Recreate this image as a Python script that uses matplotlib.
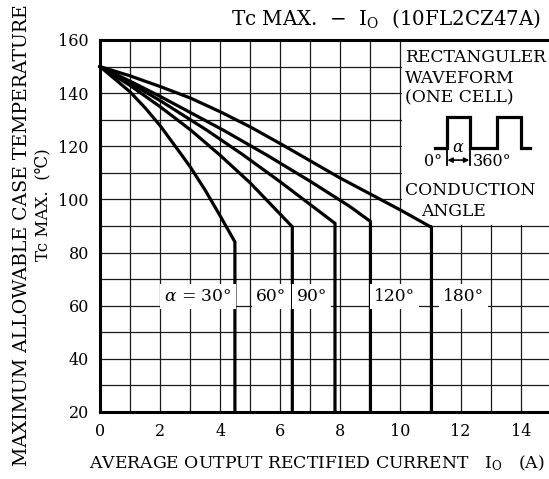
import matplotlib
matplotlib.use("Agg")
import matplotlib.pyplot as plt
from matplotlib.patches import Rectangle
from matplotlib.ticker import MultipleLocator

plt.rcParams["font.family"] = ["DejaVu Serif", "DejaVu Sans"]
plt.rcParams["mathtext.fontset"] = "dejavuserif"

# Tc max vs Io for each conduction angle; last point is where the curve drops
I_30 = [0, 1, 1.5, 2, 2.72, 3, 3.5, 4, 4.49]
T_30 = [150, 140.5, 134.5, 127.8, 116.7, 112.3, 103.5, 93.8, 84]
I_60 = [0, 1, 2, 3.02, 3.99, 5, 6.4]
T_60 = [150, 142.9, 134.9, 126.1, 116.7, 106.2, 89.7]
I_90 = [0, 1, 2, 3.55, 4.77, 6, 7.82]
T_90 = [150, 143.8, 137.2, 126.1, 116.7, 106.6, 91]
I_120 = [0, 1, 2, 4.1, 5.55, 7, 8.32, 9.0]
T_120 = [150, 144.5, 138.8, 126.1, 116.7, 106.8, 97.3, 91.7]
I_180 = [0, 1, 2, 3, 4, 5, 6, 7, 8, 9, 10, 11.03]
T_180 = [150, 146.5, 142.5, 138.2, 133, 127.3, 121, 114.5, 108, 102, 96, 89.5]

CURVES = [(I_30, T_30), (I_60, T_60), (I_90, T_90), (I_120, T_120), (I_180, T_180)]
ANGLE_LABELS = [r"$\alpha$ = 30°", "60°", "90°", "120°", "180°"]
LABEL_X = [3.25, 5.7, 7.05, 9.8, 12.1]
LABEL_T = 63.5

X_TICKS = [0, 2, 4, 6, 8, 10, 12, 14]
Y_TICKS = [20, 40, 60, 80, 100, 120, 140, 160]

fig = plt.figure(figsize=(5.49, 4.79), dpi=100)
ax = fig.add_axes([0.1821, 0.1399, 0.8211, 0.7766])
ax.set_xlim(0, 15)
ax.set_ylim(20, 160)

ax.set_xticks(X_TICKS)
ax.set_yticks(Y_TICKS)
ax.xaxis.set_minor_locator(MultipleLocator(1))
ax.yaxis.set_minor_locator(MultipleLocator(10))
ax.tick_params(which="both", length=0, labelsize=11.5)
ax.tick_params(axis="x", pad=8)
ax.tick_params(axis="y", pad=8)
ax.set_axisbelow(True)
ax.grid(which="both", color="#1a1a1a", linewidth=0.9)

for side in ["left", "bottom", "top"]:
    ax.spines[side].set_linewidth(2.2)
ax.spines["right"].set_visible(False)

# blank area for the waveform legend
ax.add_patch(Rectangle((10.06, 90.35), 5.2, 70, facecolor="white", edgecolor="none", zorder=1))

for xs, ys in CURVES:
    ax.plot(xs + [xs[-1]], ys + [20], color="black", linewidth=2.3, zorder=3,
            solid_joinstyle="miter", clip_on=False)

for txt, x in zip(ANGLE_LABELS, LABEL_X):
    ax.text(x, LABEL_T, txt, ha="center", va="center", fontsize=12.3, zorder=4,
            bbox=dict(boxstyle="square,pad=0.25", facecolor="white", edgecolor="none"))

# legend text + waveform sketch
ax.text(10.15, 156.5, "RECTANGULER\nWAVEFORM\n(ONE CELL)", ha="left", va="top",
        fontsize=12.3, linespacing=1.25, zorder=4)
ax.text(10.15, 103.3, "CONDUCTION", ha="left", va="center", fontsize=12.3, zorder=4)
ax.text(10.68, 95.5, "ANGLE", ha="left", va="center", fontsize=12.3, zorder=4)

wx = [11.15, 11.54, 11.54, 12.31, 12.31, 13.2, 13.2, 14.01, 14.01, 14.31]
wy = [119.2, 119.2, 130.9, 130.9, 119.2, 119.2, 130.9, 130.9, 119.2, 119.2]
ax.plot(wx, wy, color="black", linewidth=2.3, zorder=3, solid_joinstyle="miter")
ax.plot([11.54, 11.54], [118.5, 112.8], color="black", linewidth=1.3, zorder=3)
ax.plot([12.31, 12.31], [118.5, 112.8], color="black", linewidth=1.3, zorder=3)
ax.annotate("", xy=(11.56, 114.8), xytext=(12.29, 114.8),
            arrowprops=dict(arrowstyle="<|-|>", color="black", lw=1.2,
                            mutation_scale=7, shrinkA=0, shrinkB=0), zorder=3)
ax.text(11.92, 116.2, r"$\alpha$", ha="center", va="bottom", fontsize=11.5, zorder=4)
ax.text(11.1, 114.3, "0°", ha="center", va="center", fontsize=11.5, zorder=4)
ax.text(12.42, 114.3, "360°", ha="left", va="center", fontsize=11.5, zorder=4)

fig.text(0.985, 0.962, r"Tc MAX.  $-$  I$_\mathrm{O}$  (10FL2CZ47A)", ha="right",
         va="center", fontsize=14.3)
fig.text(0.993, 0.033, r"AVERAGE OUTPUT RECTIFIED CURRENT   I$_\mathrm{O}$   (A)",
         ha="right", va="center", fontsize=12.4)
fig.text(0.04, 0.509, "MAXIMUM ALLOWABLE CASE TEMPERATURE", rotation=90,
         ha="center", va="center", fontsize=13.6)
fig.text(0.079, 0.572, "Tc MAX.  (℃)", rotation=90, ha="center", va="center",
         fontsize=12)

fig.savefig("out.png", dpi=100)
